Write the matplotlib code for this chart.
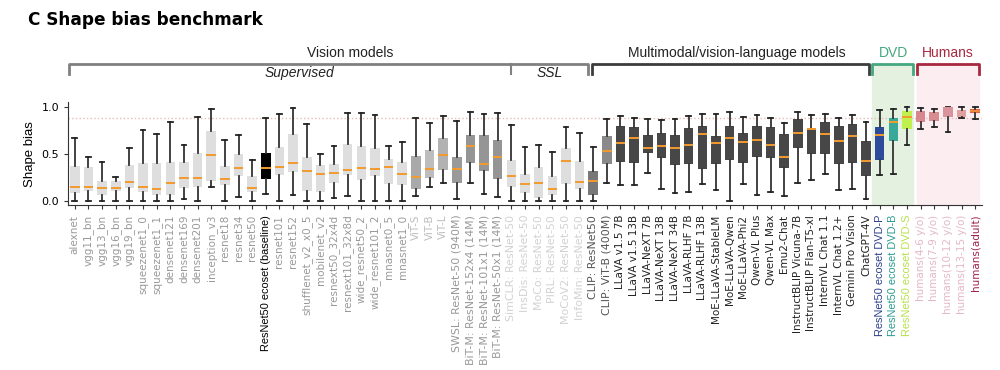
# coding = utf-8
import matplotlib
matplotlib.use("Agg")
import matplotlib.pyplot as plt

# model names (x axis)
names = ["alexnet", "vgg11_bn", "vgg13_bn", "vgg16_bn", "vgg19_bn", "squeezenet1_0",
         "squeezenet1_1", "densenet121", "densenet169", "densenet201", "inception_v3",
         "resnet18", "resnet34", "resnet50", "ResNet50 ecoset (baseline)", "resnet101",
         "resnet152", "shufflenet_v2_x0_5", "mobilenet_v2", "resnext50_32x4d",
         "resnext101_32x8d", "wide_resnet50_2", "wide_resnet101_2", "mnasnet0_5",
         "mnasnet1_0", "ViT-S", "ViT-B", "ViT-L", "SWSL: ResNet-50 (940M)",
         "BiT-M: ResNet-152x4 (14M)", "BiT-M: ResNet-101x1 (14M)", "BiT-M: ResNet-50x1 (14M)",
         "SimCLR: ResNet-50", "InsDis: ResNet-50", "MoCo: ResNet-50", "PIRL: ResNet-50",
         "MoCoV2: ResNet-50", "InfoMin: ResNet-50", "CLIP: ResNet50", "CLIP: ViT-B (400M)",
         "LLaVA v1.5 7B", "LLaVA v1.5 13B", "LLaVA-NeXT 7B", "LLaVA-NeXT 13B", "LLaVA-NeXT 34B",
         "LLaVA-RLHF 7B", "LLaVA-RLHF 13B", "MoE-LLaVA-StableLM", "MoE-LLaVA-Qwen",
         "MoE-LLaVA-Phi2", "Qwen-VL Plus", "Qwen-VL Max", "Emu2-Chat", "InstructBLIP Vicuna-7B",
         "InstructBLIP Flan-T5-xl", "InternVL Chat 1.1", "InternVL Chat 1.2+", "Gemini Pro Vision",
         "ChatGPT-4V", "ResNet50 ecoset DVD-P", "ResNet50 ecoset DVD-B", "ResNet50 ecoset DVD-S",
         "humans(4-6 y/o)", "humans(7-9 y/o)", "humans(10-12 y/o)", "humans(13-15 y/o)",
         "humans(adult)"]

# box statistics
whislo = [0, 0, 0, 0, 0, 0, 0, 0, 0.03, 0, 0.15, 0, 0.05, 0, 0.075, 0, 0.067, 0, 0, 0.04,
          0.057, 0, 0, 0, 0, 0.06, 0.15, 0.2, 0.025, 0.2, 0.08, 0.05,
          0, 0, 0, 0, 0, 0, 0, 0.2,
          0.18, 0.174, 0.305, 0.13, 0.09, 0.1, 0.184, 0.12, 0, 0.184, 0.074, 0.1, 0.053,
          0.195, 0.227, 0.294, 0.124, 0.135, 0.025,
          0.277, 0.29, 0.603, 0.766, 0.794, 0.74, 0.89, 0.876]
q1 = [0.085, 0.11, 0.065, 0.11, 0.14, 0.10, 0.067, 0.067, 0.14, 0.15, 0.215, 0.174, 0.266,
      0.096, 0.238, 0.28, 0.31, 0.11, 0.10, 0.20, 0.28, 0.223, 0.273, 0.188, 0.174,
      0.135, 0.25, 0.33, 0.2, 0.41, 0.326, 0.238,
      0.156, 0.089, 0.035, 0.067, 0.19, 0.135, 0.064, 0.397,
      0.418, 0.41, 0.51, 0.465, 0.387, 0.394, 0.348, 0.397, 0.44, 0.408, 0.472, 0.465, 0.358,
      0.564, 0.503, 0.507, 0.397, 0.404, 0.273,
      0.436, 0.645, 0.766, 0.848, 0.858, 0.894, 0.897, 0.943]
med = [0.156, 0.156, 0.14, 0.145, 0.205, 0.156, 0.13, 0.20, 0.25, 0.248, 0.49, 0.24, 0.35,
       0.138, 0.35, 0.365, 0.41, 0.32, 0.287, 0.30, 0.333, 0.358, 0.344, 0.365, 0.287,
       0.255, 0.344, 0.49, 0.344, 0.59, 0.40, 0.468,
       0.273, 0.188, 0.2, 0.13, 0.433, 0.21, 0.216, 0.54,
       0.624, 0.677, 0.57, 0.589, 0.564, 0.6, 0.716, 0.617, 0.67, 0.635, 0.652, 0.60, 0.468,
       0.723, 0.766, 0.716, 0.645, 0.69, 0.429,
       0.706, 0.84, 0.897, 0.92, 0.91, 0.99, 0.95, 0.965]
q3 = [0.38, 0.365, 0.215, 0.215, 0.385, 0.41, 0.405, 0.42, 0.415, 0.51, 0.75, 0.376, 0.505,
      0.266, 0.518, 0.58, 0.72, 0.475, 0.385, 0.40, 0.606, 0.59, 0.564, 0.447, 0.415,
      0.486, 0.543, 0.677, 0.47, 0.70, 0.70, 0.652,
      0.436, 0.294, 0.362, 0.27, 0.57, 0.43, 0.32, 0.69,
      0.80, 0.794, 0.70, 0.723, 0.70, 0.777, 0.80, 0.69, 0.80, 0.73, 0.805, 0.79, 0.72,
      0.872, 0.784, 0.84, 0.80, 0.826, 0.638,
      0.794, 0.89, 0.96, 0.96, 0.954, 1.0, 0.97, 0.986]
whishi = [0.677, 0.47, 0.42, 0.26, 0.565, 0.755, 0.716, 0.84, 0.603, 0.894, 0.98, 0.656, 0.70,
          0.44, 0.883, 0.925, 0.99, 0.82, 0.50, 0.59, 0.936, 0.94, 0.92, 0.592, 0.628,
          0.887, 0.837, 0.907, 0.858, 0.954, 0.925, 0.943,
          0.81, 0.58, 0.60, 0.528, 0.787, 0.723, 0.574, 0.876,
          0.904, 0.883, 0.88, 0.86, 0.87, 0.91, 0.933, 0.933, 0.947, 0.90, 0.918, 0.89, 0.837,
          0.954, 0.918, 0.933, 0.883, 0.918, 0.848,
          0.975, 0.986, 1.0, 0.996, 0.982, 1.0, 1.0, 1.0]

# colours per group
box_colors = (["#dedede"] * 14 + ["#000000"] + ["#dedede"] * 10
              + ["#a9a9a9", "#bdbdbd", "#b2b2b2", "#9a9a9a", "#959595", "#959595", "#959595"]
              + ["#dedede"] * 6 + ["#787878", "#8a8a8a"] + ["#474747"] * 19
              + ["#2e4a9a", "#3aa898", "#bff04e"]
              + ["#d9878f", "#d98c90", "#d9939a", "#e0a0a0", "#e2613f"])
label_colors = (["#999999"] * 14 + ["#000000"] + ["#999999"] * 10
                + ["#bdbdbd"] * 3 + ["#999999"] * 4 + ["#d2d2d2"] * 6
                + ["#555555"] * 2 + ["#222222"] * 19
                + ["#2d3f8f", "#2a9d8f", "#b8e04a"]
                + ["#e3b8c8"] * 4 + ["#a0204a"])
med_colors = ["#f39a2e"] * 62 + ["#d9878f", "#d98c90", "#d9939a", "#e0a0a0", "#f08a3a"]

fig = plt.figure(figsize=(10, 3.7), dpi=100)
ax = fig.add_axes([0.068, 0.446, 0.914, 0.277])

pos = list(range(len(names)))
stats = []
for i in pos:
    stats.append(dict(med=med[i], q1=q1[i], q3=q3[i], whislo=whislo[i], whishi=whishi[i],
                      label=names[i]))

bp = ax.bxp(stats, positions=pos, widths=0.7, showfliers=False, patch_artist=True,
            boxprops=dict(linewidth=0),
            whiskerprops=dict(color="#333333", linewidth=1.3),
            capprops=dict(color="#222222", linewidth=1.3),
            medianprops=dict(linewidth=1.4), zorder=3)
for b, c in zip(bp["boxes"], box_colors):
    b.set_facecolor(c)
    b.set_edgecolor(c)
for m, c in zip(bp["medians"], med_colors):
    m.set_color(c)

# human reference line
ax.axhline(0.887, color="#e8baba", linestyle=":", linewidth=1, zorder=1)

ax.set_xlim(-0.5, 66.5)
ax.set_ylim(-0.037, 1.05)
ax.set_yticks([0.0, 0.5, 1.0])
ax.set_yticklabels(["0.0", "0.5", "1.0"], fontsize=8)
ax.set_ylabel("Shape bias", fontsize=9.5, family="Liberation Sans", labelpad=4)
ax.spines["top"].set_visible(False)
ax.spines["right"].set_visible(False)
ax.spines["left"].set_color("#333333")
ax.spines["bottom"].set_color("#333333")
ax.tick_params(length=3, color="#333333")
ax.tick_params(axis="x", pad=4)

ax.set_xticks(pos)
ax.set_xticklabels(names, rotation=90, fontsize=7.5)
for t, c in zip(ax.get_xticklabels(), label_colors):
    t.set_color(c)
for i in range(28, 40):
    ax.get_xticklabels()[i].set_fontsize(7.9)
for i in [14, 59, 60, 61]:
    ax.get_xticklabels()[i].set_family("Liberation Sans")
    ax.get_xticklabels()[i].set_fontsize(7.9)

# shaded groups
ax.axvspan(58.45, 61.46, ymin=0, ymax=1.377, color="#e4f1e1", zorder=0, clip_on=False)
ax.axvspan(61.71, 66.28, ymin=0, ymax=1.377, color="#fbedf0", zorder=0, clip_on=False)

# group brackets
ytop, yend = 1.46, 1.355
ax.plot([-0.44, -0.44, 37.6, 37.6], [yend, ytop, ytop, yend], color="#808080", lw=2, clip_on=False)
ax.plot([32.0, 32.0], [ytop, yend], color="#808080", lw=1.5, clip_on=False)
ax.plot([37.88, 37.88, 58.2, 58.2], [yend, ytop, ytop, yend], color="#3c3c3c", lw=2, clip_on=False)
ax.plot([58.45, 58.45, 61.46, 61.46], [yend, ytop, ytop, yend], color="#45a77f", lw=2, clip_on=False)
ax.plot([61.71, 61.71, 66.28, 66.28], [yend, ytop, ytop, yend], color="#a8283f", lw=2, clip_on=False)

ax.text(20.2, 1.575, "Vision models", ha="center", va="center", fontsize=10,
        family="Liberation Sans", color="#222222")
ax.text(16.5, 1.365, "Supervised", ha="center", va="center", fontsize=10,
        family="Liberation Sans", style="italic", color="#222222")
ax.text(34.8, 1.365, "SSL", ha="center", va="center", fontsize=10,
        family="Liberation Sans", style="italic", color="#222222")
ax.text(48.5, 1.575, "Multimodal/vision-language models", ha="center", va="center",
        fontsize=10, family="Liberation Sans", color="#222222")
ax.text(60.0, 1.575, "DVD", ha="center", va="center", fontsize=10,
        family="Liberation Sans", color="#45a77f")
ax.text(64.0, 1.575, "Humans", ha="center", va="center", fontsize=10,
        family="Liberation Sans", color="#a8283f")

fig.text(0.028, 0.946, "C Shape bias benchmark", fontsize=12.2, fontweight="bold",
         ha="left", va="center")

fig.savefig("out.png", dpi=100)
